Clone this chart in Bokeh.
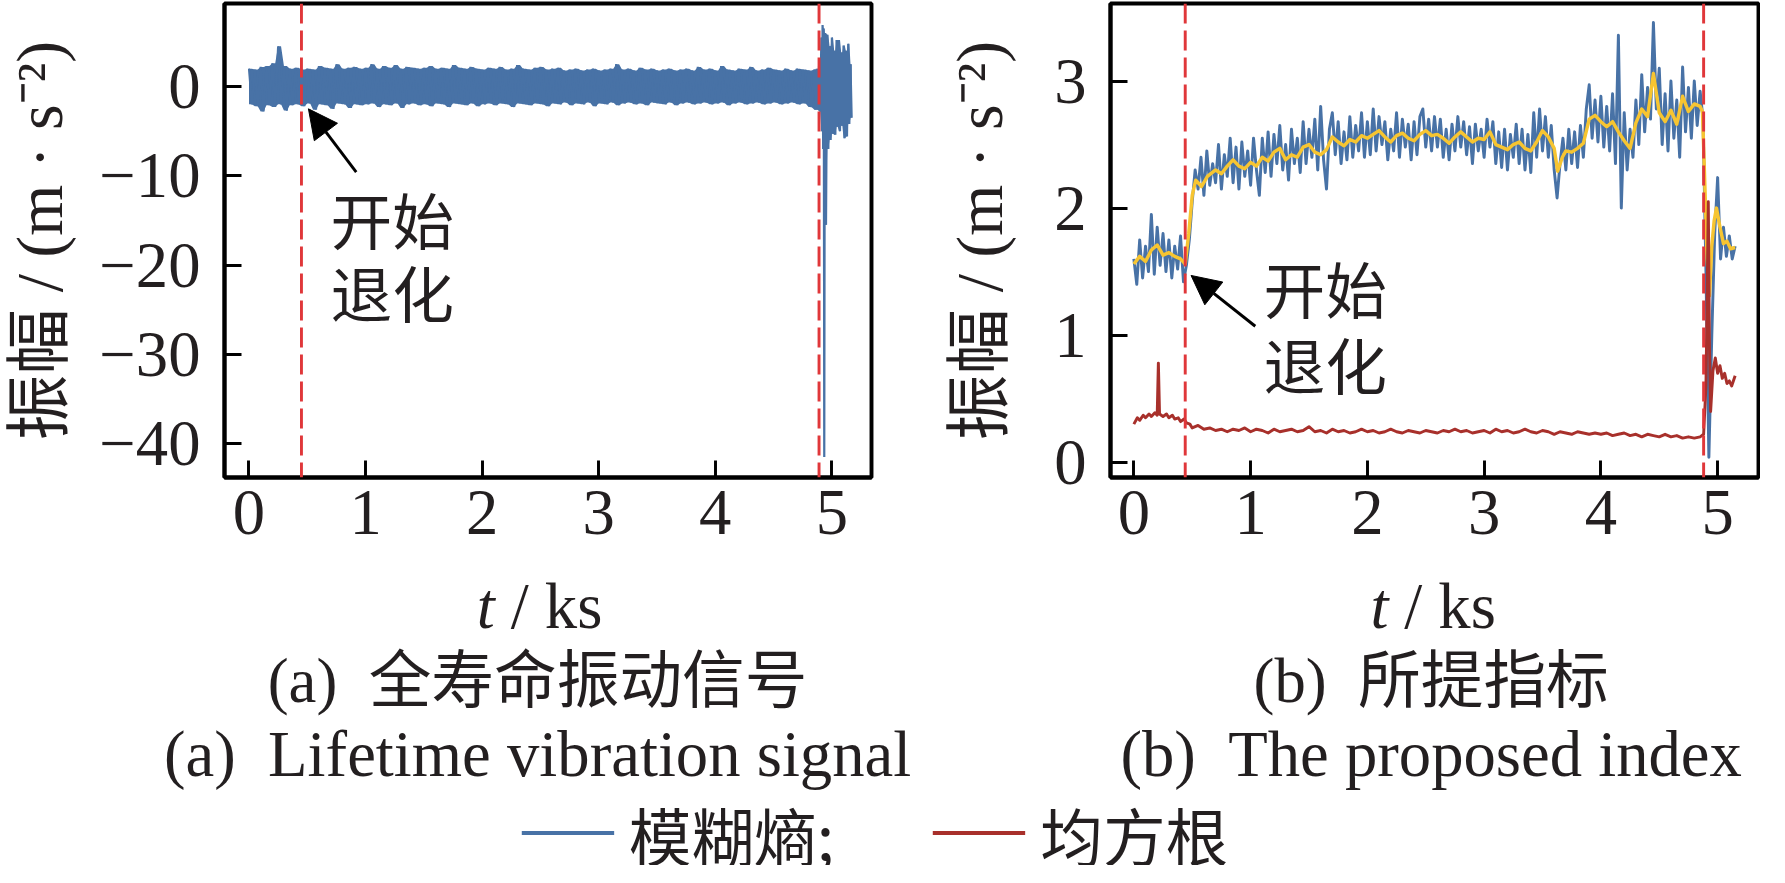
import numpy as np
from bokeh.plotting import figure
from bokeh.models import (Range1d, FixedTicker, Span, Label, Arrow, NormalHead,
                          Legend, LegendItem)
from bokeh.layouts import row, column
from bokeh.embed import file_html
from bokeh.resources import INLINE

# ----------------------------------------------------------------- data
# (a) lifetime vibration signal: envelope read every 0.05 ks (m/s^2)
vib_t0, vib_dt = 0.0, 0.05
vib_upper = [2.0, 1.9, 2.2, 2.3, 2.6, 4.5, 2.3, 2.0, 2.1, 1.9,
             2.0, 1.9, 2.3, 2.1, 2.0, 2.5, 2.0, 2.1, 2.2, 2.0,
             2.1, 2.5, 2.0, 2.3, 2.1, 2.4, 2.0, 2.2, 2.1, 2.0,
             2.1, 2.3, 2.0, 2.1, 2.0, 2.4, 2.1, 2.0, 2.2, 2.0,
             1.9, 2.1, 2.0, 2.2, 1.9, 2.0, 2.4, 2.0, 1.9, 2.1,
             2.2, 1.9, 2.0, 2.1, 1.8, 1.9, 2.0, 1.8, 1.9, 2.0,
             1.8, 1.9, 2.0, 2.5, 1.9, 2.0, 1.8, 2.1, 1.9, 2.0,
             1.8, 1.9, 2.0, 1.8, 1.9, 2.0, 1.8, 2.2, 1.9, 2.0,
             1.8, 2.3, 1.9, 1.8, 2.0, 1.9, 2.2, 1.8, 1.9, 2.1,
             1.9, 1.8, 2.0, 1.8, 2.0, 1.9, 1.8, 1.9]
vib_lower = [-2.0, -2.2, -2.8, -2.1, -2.3, -2.0, -2.7, -2.1, -2.0, -2.2,
             -1.9, -2.6, -2.0, -2.1, -2.5, -1.9, -2.0, -2.4, -2.0, -2.1,
             -2.0, -1.9, -2.3, -2.0, -2.1, -1.9, -2.4, -2.0, -1.9, -2.1,
             -2.0, -2.2, -1.9, -2.0, -2.3, -1.9, -2.0, -2.1, -1.9, -2.2,
             -2.0, -1.9, -2.1, -1.9, -2.0, -2.3, -1.9, -2.0, -2.1, -1.9,
             -2.0, -2.2, -1.9, -2.0, -1.8, -2.1, -1.9, -2.0, -1.8, -2.2,
             -1.9, -2.0, -1.8, -2.1, -1.9, -1.8, -2.0, -1.9, -2.1, -1.8,
             -1.9, -2.0, -1.8, -2.1, -1.9, -1.8, -2.0, -1.9, -1.8, -2.0,
             -1.9, -1.8, -2.1, -1.9, -1.8, -2.0, -1.9, -1.8, -2.0, -1.9,
             -1.8, -2.0, -1.9, -1.8, -2.0, -1.9, -2.3, -2.6]
# failure segment
vib_end_t = [4.87, 4.89, 4.91, 4.92, 4.93, 4.94, 4.96, 4.98, 5.00, 5.02,
             5.04, 5.06, 5.08, 5.10, 5.12, 5.14, 5.16]
vib_end_upper = [2.0, 2.3, 5.5, 6.9, 6.5, 6.0, 5.8, 4.5, 5.5, 4.0,
                 5.2, 5.2, 3.8, 4.6, 4.0, 4.8, 2.5]
vib_end_lower = [-2.6, -2.8, -5.0, -7.0, -41.5, -15.5, -7.0, -6.0, -5.3, -5.4,
                 -4.5, -5.0, -4.4, -5.8, -5.6, -4.2, -3.5]

# (b) fuzzy entropy index, read every 0.025 ks
fe_t0, fe_dt = 0.0, 0.025
fe_vals = [1.60, 1.40, 1.75, 1.45, 1.70, 1.50, 1.95, 1.48,
           1.85, 1.55, 1.80, 1.50, 1.75, 1.45, 1.70, 1.52,
           1.78, 1.42, 1.55, 1.75, 2.05, 2.30, 2.15, 2.40,
           2.10, 2.45, 2.18, 2.35, 2.20, 2.50, 2.15, 2.42,
           2.25, 2.55, 2.20, 2.48, 2.15, 2.52, 2.25, 2.45,
           2.18, 2.55, 2.30, 2.10, 2.55, 2.28, 2.60, 2.25,
           2.58, 2.35, 2.65, 2.30, 2.50, 2.22, 2.62, 2.35,
           2.55, 2.28, 2.68, 2.35, 2.62, 2.40, 2.70, 2.30,
           2.80, 2.38, 2.15, 2.62, 2.75, 2.42, 2.68, 2.35,
           2.60, 2.38, 2.72, 2.40, 2.65, 2.45, 2.75, 2.40,
           2.68, 2.42, 2.78, 2.45, 2.72, 2.50, 2.68, 2.38,
           2.62, 2.45, 2.75, 2.40, 2.70, 2.48, 2.66, 2.38,
           2.68, 2.42, 2.72, 2.78, 2.48, 2.70, 2.45, 2.72,
           2.48, 2.70, 2.40, 2.62, 2.38, 2.66, 2.45, 2.72,
           2.48, 2.68, 2.42, 2.64, 2.35, 2.66, 2.45, 2.62,
           2.40, 2.70, 2.48, 2.68, 2.35, 2.60, 2.32, 2.62,
           2.30, 2.58, 2.40, 2.66, 2.35, 2.62, 2.30, 2.58,
           2.28, 2.75, 2.40, 2.78, 2.45, 2.72, 2.40, 2.65,
           2.30, 2.08, 2.35, 2.55, 2.30, 2.62, 2.35, 2.60,
           2.32, 2.65, 2.40, 2.78, 2.97, 2.55, 2.85, 2.52,
           2.88, 2.48, 2.80, 2.45, 2.90, 2.35, 3.36, 2.00,
           2.75, 2.30, 2.62, 2.40, 2.85, 2.50, 3.05, 2.60,
           2.95, 2.70, 3.46, 2.78, 3.10, 2.50, 2.90, 2.45,
           3.00, 2.55, 2.85, 2.40, 3.11, 2.60, 2.95, 2.55,
           3.00, 2.65, 2.92, 2.70, 1.50, 0.04, 1.00, 1.80,
           2.24, 1.60, 1.85, 1.62, 1.78, 1.60, 1.70]

# smoothed index (yellow)
sm_t = [0.00, 0.05, 0.10, 0.15, 0.20, 0.25, 0.30, 0.35, 0.40, 0.44,
        0.47, 0.50, 0.53, 0.58, 0.63, 0.70, 0.75, 0.80, 0.85, 0.90,
        0.95, 1.00, 1.05, 1.10, 1.15, 1.20, 1.25, 1.30, 1.35, 1.40,
        1.45, 1.50, 1.55, 1.60, 1.65, 1.70, 1.75, 1.80, 1.85, 1.90,
        1.95, 2.00, 2.05, 2.10, 2.15, 2.20, 2.25, 2.30, 2.35, 2.40,
        2.45, 2.50, 2.55, 2.60, 2.65, 2.70, 2.75, 2.80, 2.85, 2.90,
        2.95, 3.00, 3.05, 3.10, 3.15, 3.20, 3.25, 3.30, 3.35, 3.40,
        3.45, 3.50, 3.55, 3.60, 3.63, 3.67, 3.70, 3.75, 3.80, 3.85,
        3.90, 3.95, 4.00, 4.05, 4.10, 4.15, 4.20, 4.25, 4.30, 4.35,
        4.40, 4.45, 4.50, 4.55, 4.60, 4.65, 4.70, 4.75, 4.80, 4.85,
        4.87, 4.89, 4.91, 4.93, 4.95, 4.97, 4.99, 5.02, 5.05, 5.08,
        5.11, 5.15]
sm_v = [1.56, 1.62, 1.58, 1.67, 1.71, 1.63, 1.65, 1.62, 1.60, 1.56,
        1.80, 2.10, 2.22, 2.17, 2.25, 2.30, 2.27, 2.33, 2.38, 2.33,
        2.31, 2.36, 2.33, 2.40, 2.37, 2.44, 2.47, 2.38, 2.42, 2.40,
        2.48, 2.50, 2.44, 2.42, 2.46, 2.56, 2.52, 2.49, 2.54, 2.52,
        2.57, 2.55, 2.58, 2.61, 2.56, 2.52, 2.57, 2.59, 2.55, 2.53,
        2.58, 2.61, 2.57, 2.58, 2.55, 2.51, 2.56, 2.60, 2.56, 2.52,
        2.55, 2.54, 2.60, 2.50, 2.48, 2.46, 2.50, 2.52, 2.47, 2.45,
        2.52, 2.61, 2.56, 2.47, 2.29, 2.40, 2.45, 2.44, 2.47, 2.51,
        2.70, 2.73, 2.68, 2.64, 2.68, 2.60, 2.53, 2.47, 2.67, 2.78,
        2.72, 3.06, 2.75, 2.68, 2.77, 2.66, 2.88, 2.76, 2.82, 2.80,
        2.76, 2.20, 1.60, 1.31, 1.70, 1.90, 2.00, 1.85, 1.72, 1.74,
        1.68, 1.69]

# root mean square (dark red)
rms_t = ([0.00, 0.03, 0.05, 0.08, 0.10, 0.13, 0.15, 0.18, 0.20, 0.21,
          0.22, 0.25, 0.28, 0.30, 0.33, 0.35, 0.38, 0.40, 0.43, 0.45,
          0.48, 0.50, 0.55]
         + [round(0.60 + 0.05 * i, 2) for i in range(86)]
         + [4.88, 4.90, 4.91, 4.92, 4.93, 4.94, 4.96, 4.98, 5.00, 5.02,
            5.04, 5.06, 5.08, 5.10, 5.12, 5.15])
rms_v = ([0.30, 0.35, 0.33, 0.37, 0.35, 0.38, 0.36, 0.39, 0.37, 0.78,
          0.38, 0.36, 0.38, 0.35, 0.37, 0.34, 0.35, 0.32, 0.34, 0.31,
          0.30, 0.27, 0.29]
         + [0.26, 0.27, 0.25, 0.26, 0.24, 0.26, 0.25, 0.27,
            0.24, 0.26, 0.25, 0.23, 0.26, 0.24, 0.25, 0.26, 0.24, 0.25,
            0.28, 0.24, 0.25, 0.23, 0.26, 0.24, 0.25, 0.23, 0.24, 0.26,
            0.24, 0.25, 0.23, 0.24, 0.26, 0.24, 0.23, 0.25, 0.24, 0.23,
            0.25, 0.24, 0.23, 0.25, 0.24, 0.26, 0.24, 0.25, 0.23, 0.24,
            0.25, 0.23, 0.26, 0.24, 0.25, 0.23, 0.24, 0.26, 0.24, 0.23,
            0.25, 0.24, 0.22, 0.24, 0.23, 0.22, 0.24, 0.23, 0.22, 0.23,
            0.22, 0.23, 0.21, 0.22, 0.23, 0.21, 0.22, 0.20, 0.22, 0.21,
            0.20, 0.22, 0.20, 0.21, 0.19, 0.20, 0.19, 0.20]
         + [0.22, 0.60, 1.30, 2.05, 0.90, 0.40, 0.72, 0.82, 0.70, 0.76,
            0.66, 0.70, 0.62, 0.64, 0.60, 0.68])

# degradation markers (ks)
deg_start_a, fail_a = 0.45, 4.89
deg_start_b, fail_b = 0.44, 4.88

x_ticks = [0, 1, 2, 3, 4, 5]
a_yticks = [-40, -30, -20, -10, 0]
a_ylabels = ["\u221240", "\u221230", "\u221220", "\u221210", "0"]
b_yticks = [0, 1, 2, 3]

y_label = "振幅 / (m · s\u207b\u00b2)"
x_label_t, x_label_rest = "t", "\u00a0/\u00a0ks"
cap_a_cn = "(a)\u00a0\u00a0全寿命振动信号"
cap_a_en = "(a)\u00a0\u00a0Lifetime vibration signal"
cap_b_cn = "(b)\u00a0\u00a0所提指标"
cap_b_en = "(b)\u00a0\u00a0The proposed index"
ann_1, ann_2 = "开始", "退化"
leg_fe, leg_rms = "模糊熵;", "均方根"

# ----------------------------------------------------------------- style
S = 0.98
BLUE = "#4872A6"
YELLOW = "#F7C531"
RED = "#E0373A"
DARKRED = "#A8302B"
INK = "#231f20"
SERIF = "Liberation Serif"
CJK = "Noto Sans CJK SC"
MIX = "Liberation Serif, Noto Sans CJK SC"
FS_TICK = f"{66 * S:.1f}px"
FS_TEXT = f"{64 * S:.1f}px"
FS_YLAB = f"{67 * S:.1f}px"
FS_ANN = f"{63 * S:.1f}px"

FRAME_TOP, FRAME_H = 3, 484
PLOT_H = 582          # reference px: plots incl. tick labels
CAP_TOP = PLOT_H
LEG_TOP = 808
CAP_H = LEG_TOP - PLOT_H   # caption strip
LEG_H = 883 - LEG_TOP      # legend strip
CAP_SPLIT = 955            # caption strips: left part width (ref px)
BASE_FIX = 12              # alphabetic labels render this much lower


def px(v):
    return int(round(v * S))


def make_fig(xr, yr, frame_w, left, right):
    p = figure(frame_width=px(frame_w), frame_height=px(FRAME_H),
               x_range=Range1d(*xr), y_range=Range1d(*yr),
               output_backend="svg", toolbar_location=None,
               min_border_left=px(left), min_border_right=px(right),
               min_border_top=px(FRAME_TOP),
               min_border_bottom=px(PLOT_H - FRAME_H - FRAME_TOP))
    p.xgrid.visible = False
    p.ygrid.visible = False
    p.outline_line_color = "black"
    p.outline_line_width = 4 * S
    p.outline_line_alpha = 1.0
    p.background_fill_color = "white"
    p.border_fill_color = "white"
    for ax in (p.xaxis[0], p.yaxis[0]):
        ax.axis_line_width = 4 * S
        ax.axis_line_color = "black"
        ax.major_tick_in = px(17)
        ax.major_tick_out = 0
        ax.major_tick_line_width = 3 * S
        ax.major_tick_line_color = "black"
        ax.minor_tick_line_color = None
        ax.major_label_text_font = SERIF
        ax.major_label_text_font_size = FS_TICK
        ax.major_label_text_color = INK
        ax.major_label_text_line_height = 1.0
    p.xaxis.major_label_standoff = px(13)
    p.yaxis.major_label_standoff = px(25)
    p.xaxis.ticker = FixedTicker(ticks=x_ticks)
    p.yaxis.axis_label = y_label
    p.yaxis.axis_label_text_font = MIX
    p.yaxis.axis_label_text_font_size = FS_YLAB
    p.yaxis.axis_label_text_font_style = "normal"
    p.yaxis.axis_label_text_color = INK
    return p


def caption_fig(width_ref, xc, cn, en):
    # strip below a plot; coordinates are reference pixels (y downwards)
    c = figure(width=px(width_ref), height=px(CAP_H), output_backend="svg",
               toolbar_location=None, x_range=Range1d(0, width_ref),
               y_range=Range1d(CAP_TOP + CAP_H, CAP_TOP), x_axis_location=None,
               y_axis_location=None, min_border=0)
    c.min_border_left = c.min_border_right = 0
    c.min_border_top = c.min_border_bottom = 0
    c.xgrid.visible = False
    c.ygrid.visible = False
    c.outline_line_color = None
    c.add_layout(Label(x=xc - 62, y=630 - BASE_FIX, text=x_label_t,
                       text_font=SERIF, text_font_style="italic",
                       text_font_size=FS_TICK, text_color=INK,
                       text_align="left", text_baseline="alphabetic"))
    c.add_layout(Label(x=xc - 44, y=630 - BASE_FIX, text=x_label_rest,
                       text_font=SERIF, text_font_size=FS_TICK, text_color=INK,
                       text_align="left", text_baseline="alphabetic"))
    c.add_layout(Label(x=xc, y=707 - BASE_FIX, text=cn, text_font=MIX,
                       text_font_size=FS_TEXT, text_color=INK,
                       text_align="center", text_baseline="alphabetic"))
    c.add_layout(Label(x=xc, y=782 - BASE_FIX, text=en, text_font=SERIF,
                       text_font_size=FS_TICK, text_color=INK,
                       text_align="center", text_baseline="alphabetic"))
    return c


def add_marks(p, x0, x1, arrow, txt_x, txt_y1, txt_y2):
    dash = f"{px(20)} {px(7)}"
    for loc in (x0, x1):
        p.add_layout(Span(location=loc, dimension="height", line_color=RED,
                          line_width=3 * S, line_dash=dash))
    xs, ys, xe, ye = arrow
    p.add_layout(Arrow(end=NormalHead(size=px(30), fill_color="black",
                                      line_color="black", line_width=1),
                       x_start=xs, y_start=ys, x_end=xe, y_end=ye,
                       line_color="black", line_width=3 * S))
    for t, yy in ((ann_1, txt_y1), (ann_2, txt_y2)):
        p.add_layout(Label(x=txt_x, y=yy, text=t, text_font=CJK,
                           text_font_size=FS_ANN, text_color=INK,
                           text_align="left", text_baseline="middle"))


# ----------------------------------------------------------------- (a)
xr_a, yr_a = (-0.21, 5.34), (-43.8, 9.3)
p1 = make_fig(xr_a, yr_a, 660, 218, 42)
p1.yaxis.ticker = FixedTicker(ticks=a_yticks)
p1.yaxis.major_label_overrides = {float(v): s for v, s in zip(a_yticks, a_ylabels)}
p1.yaxis.axis_label_standoff = px(20)

t_main = [round(vib_t0 + vib_dt * i, 2) for i in range(len(vib_upper))]
t_all = np.array(t_main + vib_end_t)
up_all = np.array(vib_upper + vib_end_upper)
lo_all = np.array(vib_lower + vib_end_lower)
half = np.append(np.diff(t_all) / 2, 0.01)
zx = np.empty(2 * len(t_all))
zy = np.empty(2 * len(t_all))
zx[0::2], zy[0::2] = t_all, up_all
zx[1::2], zy[1::2] = t_all + half, lo_all
p1.varea(x=zx, y1=np.repeat(lo_all, 2), y2=np.repeat(up_all, 2),
         fill_color=BLUE)
p1.line(zx, zy, line_color=BLUE, line_width=2.2 * S, line_join="bevel")

add_marks(p1, deg_start_a, fail_a, (0.92, -9.6, 0.51, -2.5), 0.70, -14.7, -22.9)

# ----------------------------------------------------------------- (b)
xr_b, yr_b = (-0.20, 5.35), (-0.12, 3.61)
p2 = make_fig(xr_b, yr_b, 661, 202, 2)
p2.yaxis.ticker = FixedTicker(ticks=b_yticks)
p2.yaxis.axis_label_standoff = px(36)

fe_t = [round(fe_t0 + fe_dt * i, 3) for i in range(len(fe_vals))]
p2.line(fe_t, fe_vals, line_color=BLUE, line_width=3 * S, line_join="round")
p2.line(sm_t, sm_v, line_color=YELLOW, line_width=3.5 * S, line_join="round")
p2.line(rms_t, rms_v, line_color=DARKRED, line_width=3 * S, line_join="round")

add_marks(p2, deg_start_b, fail_b, (1.04, 1.07, 0.49, 1.47), 1.11, 1.38, 0.78)

# ----------------------------------------------------------------- captions
c1 = caption_fig(CAP_SPLIT, 218 + 330, cap_a_cn, cap_a_en)
c2 = caption_fig(1785 - CAP_SPLIT, 920 + 202 + 330 + 8 - CAP_SPLIT,
                 cap_b_cn, cap_b_en)

# ----------------------------------------------------------------- legend strip
p3 = figure(width=px(1785), height=px(LEG_H), output_backend="svg",
            toolbar_location=None, x_range=Range1d(-20, -19),
            y_range=Range1d(-20, -19),
            x_axis_location=None, y_axis_location=None,
            min_border_left=0, min_border_right=0, min_border_bottom=0,
            min_border_top=px(9))
p3.xgrid.visible = False
p3.ygrid.visible = False
p3.outline_line_color = None
r_fe = p3.line(fe_t, fe_vals, line_color=BLUE, line_width=4 * S)
r_rms = p3.line(rms_t, rms_v, line_color=DARKRED, line_width=4 * S)
legend = Legend(items=[LegendItem(label=leg_fe, renderers=[r_fe]),
                       LegendItem(label=leg_rms, renderers=[r_rms])],
                orientation="horizontal", location="center",
                glyph_width=px(95), glyph_height=px(20),
                label_standoff=px(15), spacing=px(100), padding=0, margin=0,
                border_line_color=None, background_fill_alpha=0,
                label_text_font=CJK, label_text_font_size=FS_TEXT,
                label_text_color=INK)
p3.add_layout(legend)

layout = column(row(p1, p2, spacing=0), row(c1, c2, spacing=0), p3, spacing=0)
open("out.html", "w", encoding="utf-8").write(file_html(layout, INLINE))
